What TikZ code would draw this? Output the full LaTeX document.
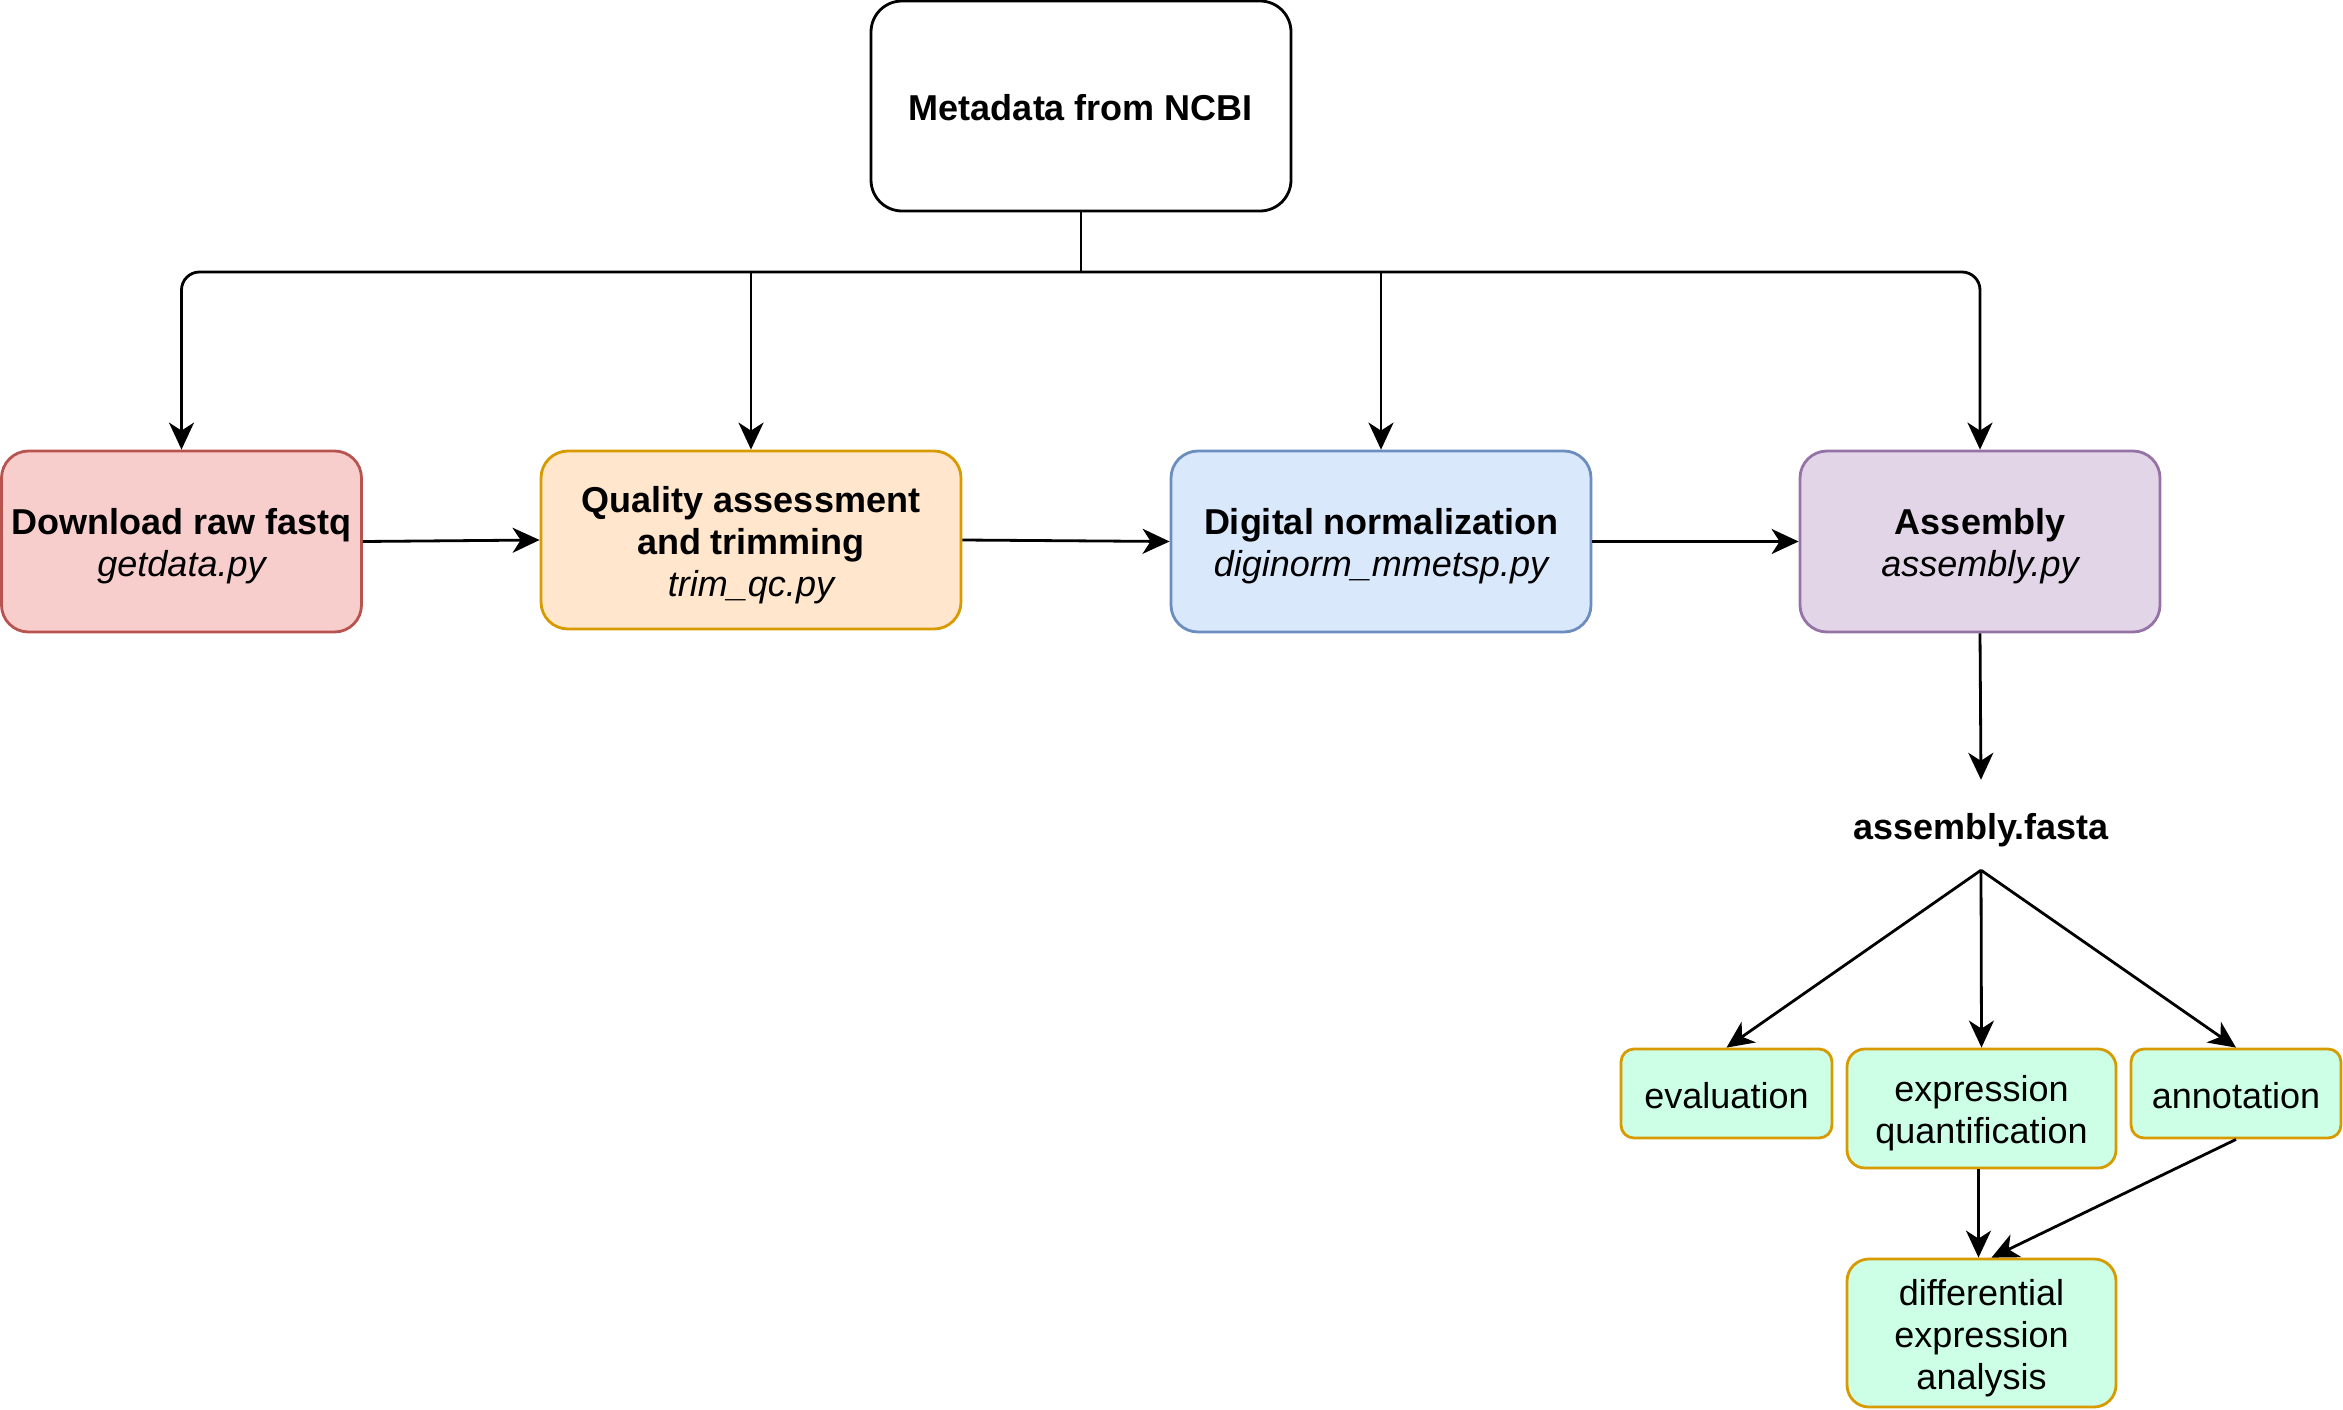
\documentclass[tikz,border=0pt]{standalone}
\usepackage{fontspec}
\setmainfont{Liberation Sans}
\usetikzlibrary{arrows.meta}
\definecolor{redF}{HTML}{F8CECC}\definecolor{redD}{HTML}{B85450}
\definecolor{orgF}{HTML}{FFE6CC}\definecolor{orgD}{HTML}{D79B00}
\definecolor{bluF}{HTML}{DAE8FC}\definecolor{bluD}{HTML}{6C8EBF}
\definecolor{purF}{HTML}{E1D5E7}\definecolor{purD}{HTML}{9673A6}
\definecolor{grnF}{HTML}{CCFFE6}
\newcommand\lnstrut{\rule[-6pt]{0pt}{42pt}}
\begin{document}
\begin{tikzpicture}[x=1pt,y=-1pt,
  every node/.style={font=\fontsize{36}{42}\selectfont, align=center, inner sep=0pt,
    execute at end node=\lnstrut},
  box/.style={draw, line width=2.8pt, rounded corners=27pt, minimum width=#1},
  box/.default=420pt,
  arr/.style={line width=2.8pt, -{Stealth[length=27pt,width=25pt,inset=8pt]}},
  ln/.style={line width=2.8pt}]
\useasboundingbox (0,0) rectangle (2343,1410);
\node[box, rounded corners=31pt, fill=white, minimum height=210pt] (meta) at (1081,106) {\lnstrut\bfseries Metadata from NCBI};
\node[box=360pt, fill=redF, draw=redD, minimum height=181pt] (dl) at (181.5,541.5) {\lnstrut\bfseries Download raw fastq\\\itshape getdata.py};
\node[box, fill=orgF, draw=orgD, minimum height=178pt] (qa) at (751,540) {\lnstrut\bfseries Quality assessment\\\bfseries and trimming\\\itshape trim\_qc.py};
\node[box, fill=bluF, draw=bluD, minimum height=181pt] (dn) at (1381,541.5) {\lnstrut\bfseries Digital normalization\\\itshape diginorm\_mmetsp.py};
\node[box=360pt, fill=purF, draw=purD, minimum height=181pt] (as) at (1980,541.5) {\lnstrut\bfseries Assembly\\\itshape assembly.py};
\node[minimum height=90pt, minimum width=300pt] (fa) at (1981,825) {\lnstrut\bfseries assembly.fasta};
\node[box=211pt, rounded corners=13pt, fill=grnF, draw=orgD, minimum height=89pt] (ev) at (1726.5,1093.5) {\lnstrut evaluation};
\node[box=269pt, rounded corners=18pt, fill=grnF, draw=orgD, minimum height=119pt] (eq) at (1981.5,1108.5) {\lnstrut expression\\quantification};
\node[box=210pt, rounded corners=13pt, fill=grnF, draw=orgD, minimum height=89pt] (an) at (2236,1093.5) {\lnstrut annotation};
\node[box=269pt, rounded corners=22pt, fill=grnF, draw=orgD, minimum height=148pt] (de) at (1981.5,1333) {\lnstrut differential\\expression\\analysis};
\coordinate (bus) at (1081,272);
\draw[ln] (meta.south) -- (bus);
\draw[arr, rounded corners=18pt] (bus) -| (dl.north);
\draw[arr, rounded corners=18pt] (bus) -| (as.north);
\draw[arr] (qa.north |- bus) -- (qa.north);
\draw[arr] (dn.north |- bus) -- (dn.north);
\draw[arr] (dl.east) -- (qa.west);
\draw[arr] (qa.east) -- (dn.west);
\draw[arr] (dn.east) -- (as.west);
\draw[arr] (as.south) -- (fa.north);
\draw[arr] (fa.south) -- (ev.north);
\draw[arr] (fa.south) -- (eq.north);
\draw[arr] (fa.south) -- (an.north);
\draw[arr] ([xshift=-3pt]eq.south) -- ([xshift=-3pt]de.north);
\draw[arr] (an.south) -- ([xshift=10pt]de.north);
\end{tikzpicture}
\end{document}
